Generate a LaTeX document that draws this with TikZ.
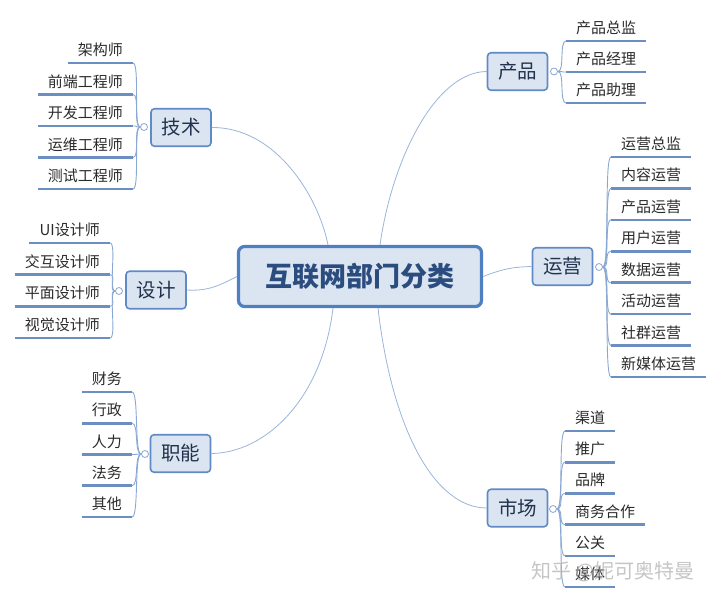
\documentclass[tikz,border=0pt]{standalone}
\usepackage{fontspec}
\setmainfont{Noto Sans CJK SC}
\definecolor{boxfill}{HTML}{DBE5F1}
\definecolor{boxborder}{HTML}{5F8AC6}
\definecolor{rootborder}{HTML}{4F7FC0}
\definecolor{roottext}{HTML}{2B4C7E}
\definecolor{branchtext}{HTML}{22314D}
\definecolor{leaftext}{HTML}{2A2A2A}
\definecolor{ulinec}{HTML}{6B8FC2}
\definecolor{connc}{HTML}{9AB5D9}
\definecolor{bracketc}{HTML}{8AA8D2}
\begin{document}
\begin{tikzpicture}[x=1pt,y=-1pt,
  box/.style={draw=boxborder, line width=1.6pt, fill=boxfill, rounded corners=3.5pt,
    minimum width=60pt, minimum height=37.5pt, inner sep=0pt, text=branchtext,
    font=\fontsize{19.5}{22}\selectfont},
  leafL/.style={anchor=south east, inner xsep=10pt, inner ysep=6pt, text=leaftext,
    font=\fontsize{15}{18}\selectfont},
  leafR/.style={leafL, anchor=south west},
  circ/.style={circle, draw=bracketc, fill=white, line width=0.8pt, minimum size=7pt, inner sep=0pt},
  conn/.style={draw=connc, line width=0.8pt},
  brk/.style={draw=bracketc, line width=0.9pt},
  uline/.style={draw=ulinec, line width=2.6pt},
]
\useasboundingbox (0,0) rectangle (720,601);

% root
\node[draw=rootborder, line width=3.2pt, fill=boxfill, rounded corners=6pt,
  minimum width=243pt, minimum height=60pt, inner sep=0pt, text=roottext,
  font=\fontsize{27}{30}\selectfont\bfseries] (root) at (360,276.5) {互联网部门分类};

% branches
\node[box] (js) at (181,127.5) {技术};
\node[box] (sj) at (156,290) {设计};
\node[box] (zn) at (180.5,453.5) {职能};
\node[box] (cp) at (517.5,71.5) {产品};
\node[box] (yy) at (562.5,266.5) {运营};
\node[box] (sc) at (517.5,508) {市场};

% main connectors
\draw[conn] ([xshift=-32pt]root.north) .. controls (318,195) and (275,127) .. (js.east);
\draw[conn] ([xshift=20pt]root.north) .. controls (392,160) and (435,72) .. (cp.west);
\draw[conn] (root.west) .. controls (215,288) and (205,291) .. (sj.east);
\draw[conn] (root.east) .. controls (505,268) and (515,267) .. (yy.west);
\draw[conn] ([xshift=-27pt]root.south) .. controls (322,400) and (265,453) .. (zn.east);
\draw[conn] ([xshift=18pt]root.south) .. controls (392,430) and (435,508) .. (sc.west);

% collapse circles
\node[circ] (cjs) at (144,127) {};
\node[circ] (csj) at (119,291) {};
\node[circ] (czn) at (145,454) {};
\node[circ] (ccp) at (554,71.5) {};
\node[circ] (cyy) at (599,267) {};
\node[circ] (csc) at (553,509) {};

% leaves: 技术
\foreach \t [count=\i] in {架构师,前端工程师,开发工程师,运维工程师,测试工程师}{
  \node[leafL] (js\i) at (133,63+31.5*\i-31.5) {\t};
  \draw[uline] (js\i.south west) -- (js\i.south east);
  \draw[brk] (cjs.west) .. controls +(-7,0) and +(7,0) .. (js\i.south east);
}
% leaves: 设计
\foreach \t [count=\i] in {UI设计师,交互设计师,平面设计师,视觉设计师}{
  \node[leafL] (sj\i) at (110,243+31.67*\i-31.67) {\t};
  \draw[uline] (sj\i.south west) -- (sj\i.south east);
  \draw[brk] (csj.west) .. controls +(-7,0) and +(7,0) .. (sj\i.south east);
}
% leaves: 职能
\foreach \t [count=\i] in {财务,行政,人力,法务,其他}{
  \node[leafL] (zn\i) at (132,392+31.25*\i-31.25) {\t};
  \draw[uline] (zn\i.south west) -- (zn\i.south east);
  \draw[brk] (czn.west) .. controls +(-7,0) and +(7,0) .. (zn\i.south east);
}
% leaves: 产品
\foreach \t [count=\i] in {产品总监,产品经理,产品助理}{
  \node[leafR] (cp\i) at (566,41+31*\i-31) {\t};
  \draw[uline] (cp\i.south west) -- (cp\i.south east);
  \draw[brk] (ccp.east) .. controls +(7,0) and +(-7,0) .. (cp\i.south west);
}
% leaves: 运营
\foreach \t [count=\i] in {运营总监,内容运营,产品运营,用户运营,数据运营,活动运营,社群运营,新媒体运营}{
  \node[leafR] (yy\i) at (611,157+31.43*\i-31.43) {\t};
  \draw[uline] (yy\i.south west) -- (yy\i.south east);
  \draw[brk] (cyy.east) .. controls +(7,0) and +(-7,0) .. (yy\i.south west);
}
% leaves: 市场
\foreach \t [count=\i] in {渠道,推广,品牌,商务合作,公关,媒体}{
  \node[leafR] (sc\i) at (565,431+31.2*\i-31.2) {\t};
  \draw[uline] (sc\i.south west) -- (sc\i.south east);
  \draw[brk] (csc.east) .. controls +(7,0) and +(-7,0) .. (sc\i.south west);
}

% watermark
\node[text=gray!60, opacity=0.75, inner sep=0pt, font=\fontsize{20}{24}\selectfont] (wm) at (613,572) {知乎 @妮可奥特曼};
\end{tikzpicture}
\end{document}
